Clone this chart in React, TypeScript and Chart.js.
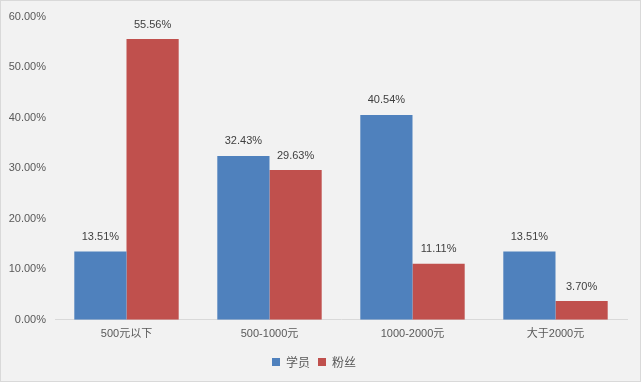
import React, { useEffect, useRef } from "react";
import { Chart, registerables } from "chart.js";

Chart.register(...registerables);

const categories = ["500元以下", "500-1000元", "1000-2000元", "大于2000元"];
const studentValues = [13.51, 32.43, 40.54, 13.51];
const fanValues = [55.56, 29.63, 11.11, 3.7];
const seriesNames = ["学员", "粉丝"];
const yMax = 60;
const yStep = 10;

const FONT = '"Liberation Sans", "Noto Sans CJK SC", sans-serif';
const CJK_FONT = '"Noto Sans CJK SC", "Noto Sans", sans-serif';

const labelPlugin = {
  id: "barLabels",
  afterDatasetsDraw(chart: any) {
    const ctx = chart.ctx;
    ctx.save();
    ctx.font = `11px ${FONT}`;
    ctx.fillStyle = "#404040";
    ctx.textAlign = "center";
    ctx.textBaseline = "bottom";
    chart.data.datasets.forEach((ds: any, i: number) => {
      const meta = chart.getDatasetMeta(i);
      meta.data.forEach((el: any, j: number) => {
        const v = ds.data[j] as number;
        ctx.fillText(v.toFixed(2) + "%", el.x, el.y - 9);
      });
    });
    ctx.restore();
  },
};

export default function App() {
  const ref = useRef<HTMLCanvasElement>(null);
  useEffect(() => {
    document.body.style.margin = "0";
    const chart = new Chart(ref.current!, {
      type: "bar",
      data: {
        labels: categories,
        datasets: [
          {
            label: seriesNames[0],
            data: studentValues,
            backgroundColor: "#4F81BD",
            categoryPercentage: 0.73,
            barPercentage: 1,
          },
          {
            label: seriesNames[1],
            data: fanValues,
            backgroundColor: "#C0504D",
            categoryPercentage: 0.73,
            barPercentage: 1,
          },
        ],
      },
      options: {
        animation: false,
        responsive: false,
        maintainAspectRatio: false,
        layout: { padding: { left: 0, right: 13, top: 15, bottom: 3 } },
        plugins: {
          legend: {
            position: "bottom",
            labels: {
              boxWidth: 8,
              boxHeight: 8,
              padding: 8,
              color: "#595959",
              font: { family: CJK_FONT, size: 12 },
            },
          },
          tooltip: { enabled: false },
        },
        scales: {
          x: {
            grid: { display: false },
            border: { display: true, color: "#D9D9D9" },
            afterFit: (s: any) => {
              s.height += 7;
            },
            ticks: {
              color: "#595959",
              font: { family: FONT, size: 11 },
              padding: 0,
            },
          },
          y: {
            min: 0,
            max: yMax,
            grid: { display: false, drawTicks: false },
            border: { display: false },
            afterFit: (s: any) => {
              s.width = 54;
            },
            ticks: {
              stepSize: yStep,
              color: "#595959",
              padding: 9,
              font: { family: FONT, size: 11 },
              callback: (v: any) => Number(v).toFixed(2) + "%",
            },
          },
        },
      },
      plugins: [labelPlugin],
    });
    return () => chart.destroy();
  }, []);
  return (
    <div
      style={{
        position: "absolute",
        left: 0,
        top: 0,
        width: 641,
        height: 382,
        boxSizing: "border-box",
        border: "1px solid #D9D9D9",
        background: "#F2F2F2",
      }}
    >
      <canvas ref={ref} width={639} height={380} style={{ display: "block" }} />
    </div>
  );
}
